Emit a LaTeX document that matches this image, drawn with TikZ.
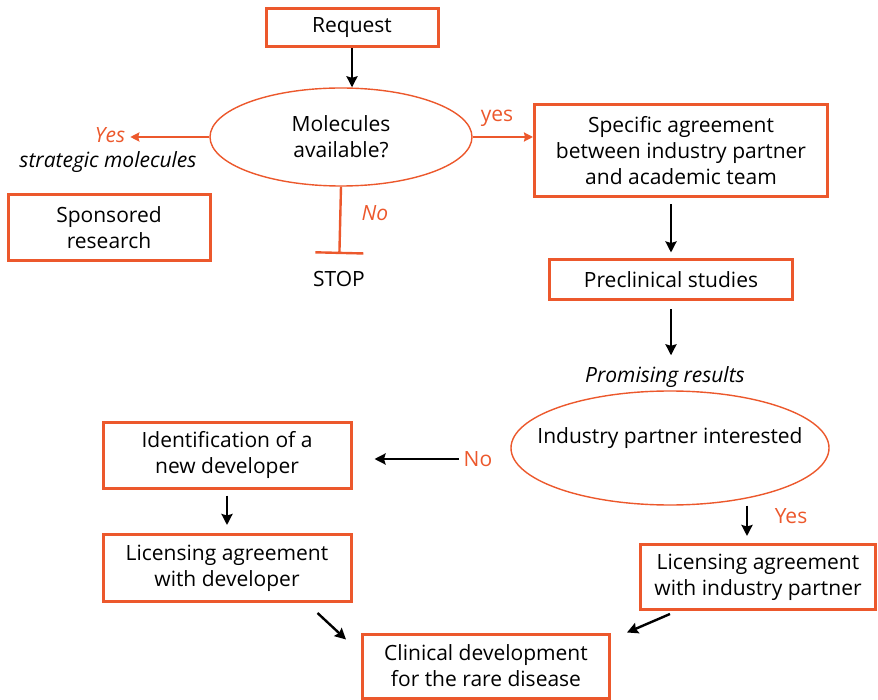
\documentclass[tikz,border=0pt]{standalone}
\usepackage{fontspec}
\setmainfont{Open Sans}
\usetikzlibrary{shapes.geometric,arrows.meta}
\definecolor{flowOrange}{RGB}{236,88,44}

\begin{document}
\begin{tikzpicture}[x=1pt,y=-1pt]
  \tikzset{BoxStyle/.style = {
    shape         = rectangle,
    draw          = flowOrange,
    fill          = white,
    line width    = 3pt,
    text          = black,
    align         = center,
    inner sep     = 2pt,
    font          = \fontsize{21}{26}\selectfont
    }
  }
  \tikzset{OvalStyle/.style = {
    shape         = ellipse,
    draw          = flowOrange,
    fill          = white,
    line width    = 1.4pt,
    text          = black,
    align         = center,
    inner sep     = 0pt,
    font          = \fontsize{21}{26}\selectfont
    }
  }
  \tikzset{LabelStyle/.style = {
    text          = black,
    inner sep     = 1pt,
    font          = \fontsize{21}{26}\selectfont
    }
  }
  \tikzset{ArrowStyle/.style = {
    draw          = black,
    line width    = 2.4pt,
    -{Stealth[length=11pt,width=11pt,inset=1.5pt]}
    }
  }
  \tikzset{OrangeArrowStyle/.style = {
    draw          = flowOrange,
    line width    = 2.4pt,
    -{Stealth[length=9pt,width=9pt,inset=1pt]}
    }
  }
  \useasboundingbox (0,0) rectangle (878,700);

  \node[BoxStyle, minimum width=172pt, minimum height=38pt](req) at (352,28) {Request};
  \node[OvalStyle, minimum width=262pt, minimum height=98pt](mol) at (341,137) {Molecules\\available?};
  \node[BoxStyle, minimum width=202pt, minimum height=66pt](spon) at (109,228) {Sponsored\\research};
  \node[BoxStyle, minimum width=293pt, minimum height=92pt](spec) at (681,151) {Specific agreement\\between industry partner\\and academic team};
  \node[BoxStyle, minimum width=243pt, minimum height=40pt](pre) at (671,280) {Preclinical studies};
  \node[OvalStyle, minimum width=318pt, minimum height=114pt, inner xsep=-25pt, text depth=24pt](ind) at (670,448) {Industry partner interested};
  \node[BoxStyle, minimum width=248pt, minimum height=66pt](ident) at (227,455) {Identification of a\\new developer};
  \node[BoxStyle, minimum width=248pt, minimum height=67pt](licDev) at (227,568) {Licensing agreement\\with developer};
  \node[BoxStyle, minimum width=235pt, minimum height=65pt](licInd) at (758,577) {Licensing agreement\\with industry partner};
  \node[BoxStyle, minimum width=247pt, minimum height=64pt](clin) at (486,666) {Clinical development\\for the rare disease};

  \node[LabelStyle, text=flowOrange, font=\fontsize{21}{26}\selectfont\itshape](yesL) at (110,135) {Yes};
  \node[LabelStyle, font=\fontsize{21}{26}\selectfont\itshape](strat) at (108,162) {strategic molecules};
  \node[LabelStyle, text=flowOrange, font=\fontsize{21}{26}\selectfont\itshape](noT) at (375,213) {No};
  \node[LabelStyle](stop) at (339,279) {STOP};
  \node[LabelStyle, text=flowOrange](yesR) at (497,118) {yes};
  \node[LabelStyle, font=\fontsize{21}{26}\selectfont\itshape](prom) at (665,377) {Promising results};
  \node[LabelStyle, text=flowOrange](noL) at (478,459) {No};
  \node[LabelStyle, text=flowOrange](yesB) at (791,516) {Yes};

  \draw[ArrowStyle](req.south) to (req.south |- mol.north);
  \draw[OrangeArrowStyle, shorten >=4pt](mol.west) to (mol.west -| yesL.east);
  \draw[OrangeArrowStyle](mol.east) to (mol.east -| spec.west);
  \draw[flowOrange, line width=2.4pt, -{Bar[width=48pt,line width=2.4pt]}, shorten >=16pt](mol.south) to (stop.north);
  \draw[ArrowStyle, shorten <=6pt, shorten >=6pt](pre.north |- spec.south) to (pre.north);
  \draw[ArrowStyle, shorten <=8pt, shorten >=10pt](pre.south) to (pre.south |- prom.north);
  \draw[ArrowStyle, shorten <=4pt, shorten >=22pt](noL.west) to (noL.west -| ident.east);
  \draw[ArrowStyle, shorten <=6pt, shorten >=8pt](ident.south) to (licDev.north);
  \draw[ArrowStyle, shorten >=7pt]([xshift=-11pt]licInd.north |- ind.south) to ([xshift=-11pt]licInd.north);
  \draw[ArrowStyle]([shift={(-35,10)}]licDev.south east) to ([shift={(-15,7)}]clin.north west);
  \draw[ArrowStyle]([shift={(31,3)}]licInd.south west) to ([shift={(16,0)}]clin.north east);
\end{tikzpicture}
\end{document}
